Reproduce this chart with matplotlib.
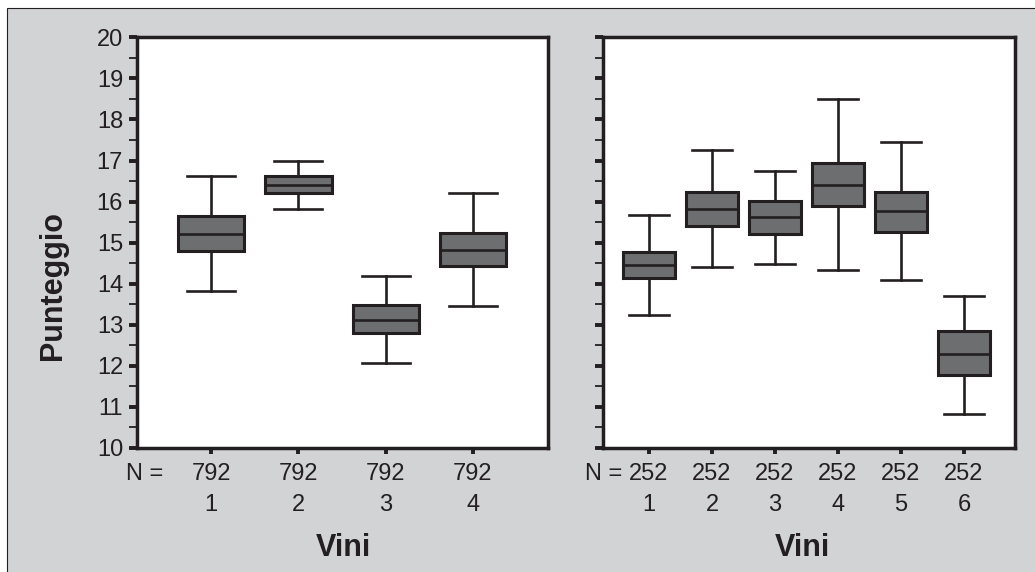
import matplotlib
matplotlib.use("Agg")
import matplotlib.pyplot as plt
from matplotlib.patches import Rectangle
from matplotlib.ticker import MultipleLocator

plt.rcParams['font.family'] = ['Liberation Sans', 'DejaVu Sans']

# dati: (whisker basso, Q1, mediana, Q3, whisker alto)
vini_a = ["1", "2", "3", "4"]
n_a = ["792", "792", "792", "792"]
low_a = [13.82, 15.83, 12.07, 13.46]
q1_a = [14.80, 16.22, 12.81, 14.42]
med_a = [15.21, 16.41, 13.11, 14.82]
q3_a = [15.64, 16.63, 13.48, 15.24]
high_a = [16.63, 17.00, 14.18, 16.22]

vini_b = ["1", "2", "3", "4", "5", "6"]
n_b = ["252", "252", "252", "252", "252", "252"]
low_b = [13.24, 14.40, 14.48, 14.33, 14.08, 10.83]
q1_b = [14.14, 15.41, 15.22, 15.89, 15.27, 11.77]
med_b = [14.45, 15.82, 15.63, 16.41, 15.77, 12.29]
q3_b = [14.78, 16.23, 16.02, 16.95, 16.24, 12.84]
high_b = [15.67, 17.26, 16.75, 18.49, 17.44, 13.70]

dark = "#231f20"
boxfill = "#6d6e70"
bg = "#d2d3d5"

fig = plt.figure(figsize=(10.35, 5.72), dpi=100)
fig.patch.set_facecolor("white")
fig.patches.append(Rectangle((7 / 1035, -0.1), 1.2, 1 - 8 / 572 + 0.1,
                             transform=fig.transFigure, facecolor=bg,
                             edgecolor=dark, linewidth=0.8, zorder=-10))

ax1 = fig.add_axes([137 / 1035, 1 - 448 / 572, 411 / 1035, 410.7 / 572])
ax2 = fig.add_axes([603 / 1035, 1 - 448 / 572, 412 / 1035, 410.7 / 572])


def draw(ax, low, q1, med, q3, high, labels, ns, width, capw, xlim, nx, vx):
    stats = []
    for i in range(len(med)):
        stats.append(dict(whislo=low[i], q1=q1[i], med=med[i], q3=q3[i],
                          whishi=high[i], fliers=[]))
    pos = list(range(1, len(med) + 1))
    ax.bxp(stats, positions=pos, widths=width, patch_artist=True,
           showfliers=False, capwidths=capw,
           boxprops=dict(facecolor=boxfill, edgecolor=dark, linewidth=2.2),
           medianprops=dict(color=dark, linewidth=1.9),
           whiskerprops=dict(color=dark, linewidth=1.9),
           capprops=dict(color=dark, linewidth=1.9))
    ax.set_xlim(*xlim)
    ax.set_ylim(10, 20)
    ax.set_facecolor("white")
    for s in ax.spines.values():
        s.set_linewidth(2.5)
        s.set_color(dark)
    ax.yaxis.set_major_locator(MultipleLocator(1))
    ax.yaxis.set_minor_locator(MultipleLocator(0.5))
    ax.tick_params(axis="y", which="major", direction="out", length=6,
                   width=2.8, color=dark, labelsize=17, pad=4, labelcolor=dark)
    ax.tick_params(axis="y", which="minor", direction="out", length=6,
                   width=1.3, color=dark)
    ax.set_xticks(pos)
    ax.set_xticklabels([])
    ax.tick_params(axis="x", direction="out", length=4, width=2.8, color=dark)
    tr = ax.get_xaxis_transform()
    for p, lab, n in zip(pos, labels, ns):
        ax.text(p, -0.063, n, transform=tr, ha="center", va="center",
                fontsize=17, color=dark)
        ax.text(p, -0.138, lab, transform=tr, ha="center", va="center",
                fontsize=17, color=dark)
    ax.text(nx, -0.063, "N =", transform=tr, ha="right", va="center",
            fontsize=17, color=dark)
    ax.text(vx, -0.243, "Vini", transform=ax.transAxes, ha="center",
            va="center", fontsize=22, fontweight="bold", color=dark)


draw(ax1, low_a, q1_a, med_a, q3_a, high_a, vini_a, n_a,
     0.76, 0.55, (0.15, 4.86), 0.45, 0.503)
draw(ax2, low_b, q1_b, med_b, q3_b, high_b, vini_b, n_b,
     0.83, 0.62, (0.27, 6.81), 0.57, 0.483)
ax2.set_yticklabels([])

fig.text(53 / 1035, 1 - 286 / 572, "Punteggio", rotation=90, ha="center",
         va="center", fontsize=22, fontweight="bold", color=dark)

fig.savefig("out.png", dpi=100, facecolor=fig.get_facecolor())
